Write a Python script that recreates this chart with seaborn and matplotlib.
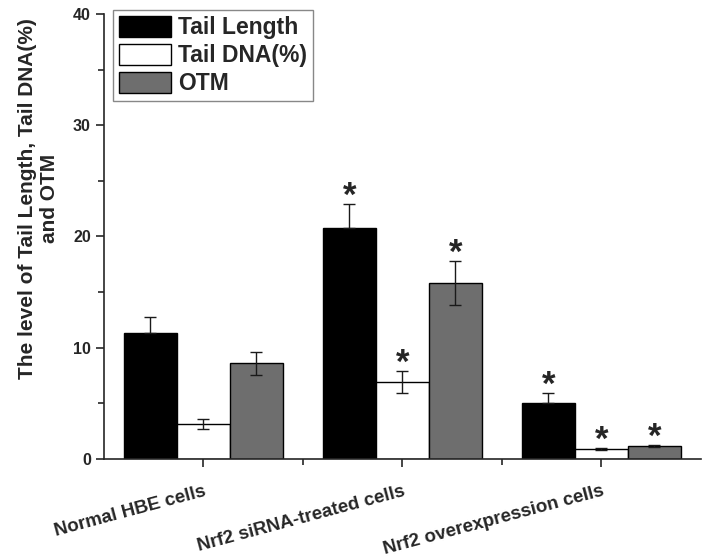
import numpy as np
import pandas as pd
import matplotlib
matplotlib.use('Agg')
import matplotlib.pyplot as plt
import seaborn as sns
from matplotlib.ticker import MultipleLocator

# values
groups = ['Normal HBE cells', 'Nrf2 siRNA-treated cells', 'Nrf2 overexpression cells']
measures = ['Tail Length', 'Tail DNA(%)', 'OTM']
tail_length = [11.35, 20.8, 5.0]
tail_dna = [3.15, 6.95, 0.9]
otm = [8.6, 15.8, 1.17]
tail_length_err = [1.45, 2.1, 0.95]
tail_dna_err = [0.42, 1.0, 0.08]
otm_err = [1.05, 2.0, 0.08]
# which bars get a star (significance)
stars = [[False, True, True], [False, True, True], [False, True, True]]

colors = ['#000000', '#ffffff', '#6e6e6e']

df = pd.DataFrame({
    'group': groups * 3,
    'measure': np.repeat(measures, 3),
    'value': tail_length + tail_dna + otm,
})
errs = [tail_length_err, tail_dna_err, otm_err]
means = [tail_length, tail_dna, otm]

sns.set_style('ticks')
plt.rcParams['font.family'] = ['Liberation Sans', 'DejaVu Sans']
plt.rcParams['font.weight'] = 'bold'

fig = plt.figure(figsize=(7.05, 5.57), dpi=100)
ax = fig.add_axes([0.1475, 0.176, 0.8465, 0.799])

sns.barplot(data=df, x='group', y='value', hue='measure', order=groups,
            hue_order=measures, palette=colors, edgecolor='black',
            linewidth=1, errorbar=None, width=0.8, saturation=1, ax=ax)

# error bars and stars on top of each bar
bar_conts = list(ax.containers)
for i, cont in enumerate(bar_conts):
    for j, bar in enumerate(cont):
        xc = bar.get_x() + bar.get_width() / 2
        # lower half is hidden inside the black bars
        low = 0 if colors[i] == '#000000' else errs[i][j]
        ax.errorbar(xc, means[i][j], yerr=[[low], [errs[i][j]]], color='#1a1a1a',
                    elinewidth=1, capsize=4, capthick=1)
        if stars[i][j]:
            ax.annotate('*', (xc, means[i][j] + errs[i][j]), xytext=(0, -1.5),
                        textcoords='offset points', ha='center', va='baseline',
                        fontsize=25, fontweight='bold')

ax.set_xlim(-0.5, 2.5)
ax.set_ylim(0, 40)
ax.yaxis.set_major_locator(MultipleLocator(10))
ax.yaxis.set_minor_locator(MultipleLocator(5))
ax.set_xticks([0.5, 1.5], minor=True)
ax.tick_params(axis='both', which='major', direction='out', length=6, width=1.2)
ax.tick_params(axis='both', which='minor', direction='out', length=4, width=1.2)
ax.tick_params(axis='y', labelsize=11.5)
ax.tick_params(axis='x', labelsize=13.5, pad=11)
for lab in ax.get_yticklabels():
    lab.set_fontweight('bold')
plt.setp(ax.get_xticklabels(), rotation=15, ha='right', rotation_mode='anchor',
         fontweight='bold')

ax.set_xlabel('')
ax.set_ylabel('The level of Tail Length, Tail DNA(%)\nand OTM', fontsize=15,
              fontweight='bold', labelpad=10, y=0.585)
sns.despine(ax=ax)
for s in ['left', 'bottom']:
    ax.spines[s].set_linewidth(1.2)

handles, labels = ax.get_legend_handles_labels()
handles, labels = handles[:3], labels[:3]
ax.legend(handles, labels, loc='upper left', bbox_to_anchor=(113 / 705, 1 - 10 / 557),
          bbox_transform=fig.transFigure, prop={'size': 16.5, 'weight': 'bold'},
          fancybox=False, edgecolor='#888888', handlelength=2.3, handleheight=1.05,
          labelspacing=0.2, handletextpad=0.3, borderpad=0.25, borderaxespad=0,
          framealpha=1)

plt.savefig('out.png', dpi=100)
